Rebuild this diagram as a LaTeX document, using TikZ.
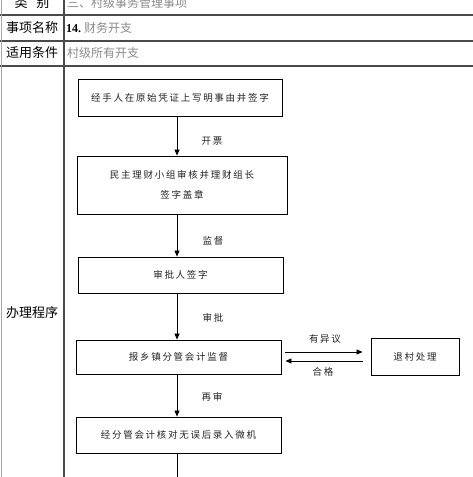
\documentclass[tikz,border=0pt]{standalone}
\usepackage{fontspec}
\setmainfont{Noto Sans CJK SC}
\newfontfamily\flowfont[LetterSpace=18]{Noto Sans CJK SC}
\newfontfamily\numfont{Liberation Serif}
\usetikzlibrary{arrows.meta}
\definecolor{tabgray}{HTML}{4A4A4A}
\definecolor{lightborder}{HTML}{A8A8A8}
\definecolor{valgray}{HTML}{8A8A8A}
\definecolor{flowtext}{HTML}{222222}
\tikzset{
  tabline/.style={draw=tabgray, line width=1.3pt},
  lab/.style={font=\fontsize{13}{15}\selectfont, text=black, inner sep=0pt},
  val/.style={anchor=west, font=\fontsize{12}{14}\selectfont, text=valgray, inner sep=0pt},
  box/.style={draw=black, line width=0.9pt, minimum width=205pt, inner sep=0pt, align=center,
    font=\flowfont\fontsize{9.5}{20}\selectfont, text=flowtext},
  arr/.style={draw=black, line width=0.8pt, -{Triangle[length=6pt,width=5pt]}},
  alab/.style={font=\flowfont\fontsize{9.5}{11}\selectfont, text=flowtext, inner sep=0pt},
}
\begin{document}
\begin{tikzpicture}[x=1pt,y=-1pt]
\useasboundingbox (0,0) rectangle (473,477);
\fill[white] (0,0) rectangle (473,477);
% table
\draw[tabline] (0,15) -- (473,15);
\draw[tabline] (0,41) -- (473,41);
\draw[tabline] (0,66) -- (473,66);
\draw[tabline] (64,0) -- (64,477);
\draw[draw=lightborder, line width=1pt] (1,0) -- (1,477);
% left column
\node[lab] (l1) at (32,3) {类\hspace{9pt}别};
\node[lab] (l2) at (32,28) {事项名称};
\node[lab] (l3) at (32,53) {适用条件};
\node[lab] (l4) at (32,313) {办理程序};
% right column
\node[val] (v1) at (67,3) {三、村级事务管理事项};
\node[val] (v2) at (66,28) {{\numfont\bfseries\color{black}14.}\hspace{3pt}财务开支};
\node[val] (v3) at (67,53) {村级所有开支};
% flow
\coordinate (ax) at (177,0);
\coordinate (bot) at (177,477);
\node[box, minimum width=204pt, minimum height=37pt] (b1) at (180,97.5) {经手人在原始凭证上写明事由并签字};
\node[box, minimum width=210pt, minimum height=58pt] (b2) at (182,185) {民主理财小组审核并理财组长\\签字盖章};
\node[box, minimum height=36pt] (b3) at (180.5,275) {审批人签字};
\node[box, minimum height=34pt] (b4) at (178.5,357) {报乡镇分管会计监督};
\node[box, minimum width=88pt, minimum height=37pt] (b5) at (415,356.5) {退村处理};
\node[box, minimum height=36pt] (b6) at (178.5,435) {经分管会计核对无误后录入微机};
\draw[arr] (b1.south -| ax) -- (b2.north -| ax);
\draw[arr] (b2.south -| ax) -- (b3.north -| ax);
\draw[arr] (b3.south -| ax) -- (b4.north -| ax);
\draw[arr] (b4.south -| ax) -- (b6.north -| ax);
\draw[draw=black, line width=0.8pt] (b6.south -| ax) -- (bot);
\draw[arr, shorten <=4pt, shorten >=8pt] ([yshift=5pt]b4.east) -- ([yshift=5pt]b4.east -| b5.west);
\draw[arr, shorten <=8pt, shorten >=4pt] ([yshift=-4pt]b4.east -| b5.west) -- ([yshift=-4pt]b4.east);
\node[alab] (t1) at (212,141) {开票};
\node[alab] (t2) at (213,241) {监督};
\node[alab] (t3) at (213,318) {审批};
\node[alab] (t4) at (212,397) {再审};
\node[alab] (t5) at (325,339) {有异议};
\node[alab] (t6) at (323,372) {合格};
\end{tikzpicture}
\end{document}
